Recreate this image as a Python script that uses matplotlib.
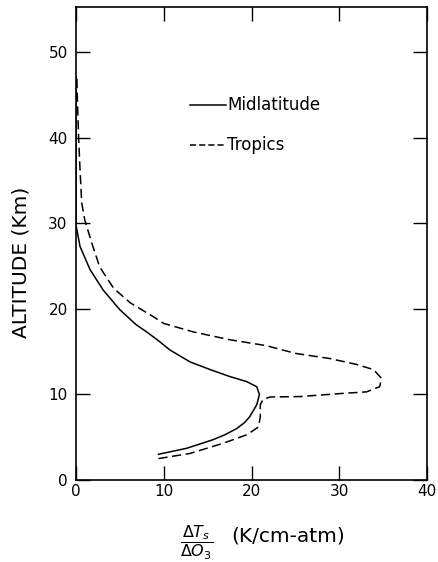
import matplotlib
matplotlib.use("Agg")
import matplotlib.pyplot as plt

# values (x: dTs/dO3 in K/cm-atm, y: altitude in km)
mid_x = [9.4, 12.6, 14.1, 15.6, 17.0, 18.3, 19.2, 19.8, 20.6, 20.9, 20.6, 19.45,
         17.5, 15.3, 13.0, 10.7, 9.5, 8.2, 6.8, 5.0, 3.1, 1.6, 0.46, 0.0, 0.0, 0.0]
mid_alt = [3.0, 3.7, 4.2, 4.7, 5.3, 6.0, 6.7, 7.4, 8.8, 10.0, 10.9, 11.5,
           12.1, 12.9, 13.8, 15.2, 16.2, 17.2, 18.2, 19.9, 22.2, 24.6, 27.3, 29.8, 35.0, 47.0]

trop_x = [9.4, 13.0, 16.8, 19.5, 20.8, 21.0, 21.0, 21.3, 22.1, 25.5, 30.1, 33.1,
          34.6, 34.8, 33.9, 32.0, 28.9, 25.0, 21.7, 17.5, 13.4, 10.0, 8.8, 6.2, 4.3,
          2.7, 1.8, 1.0, 0.65, 0.46, 0.3, 0.15, 0.1]
trop_alt = [2.5, 3.1, 4.3, 5.3, 6.2, 7.4, 8.8, 9.4, 9.7, 9.75, 10.1, 10.3,
            10.9, 11.9, 12.9, 13.5, 14.2, 14.8, 15.7, 16.4, 17.3, 18.3, 19.1, 20.7, 22.4,
            24.9, 27.7, 30.4, 32.4, 36.3, 40.0, 44.8, 47.0]

x_ticks = [0, 10, 20, 30, 40]
y_ticks = [0, 10, 20, 30, 40, 50]

fig = plt.figure(figsize=(4.38, 5.62), dpi=100)
ax = fig.add_axes([0.1735, 0.146, 0.8015, 0.8415])

ax.plot(mid_x, mid_alt, color='black', lw=1.1, solid_joinstyle='round')
ax.plot(trop_x, trop_alt, color='black', lw=1.1, dashes=(6, 3))

ax.set_xlim(0, 40)
ax.set_ylim(0, 55.3)
ax.set_xticks(x_ticks)
ax.set_yticks(y_ticks)
ax.tick_params(direction='in', length=10, width=1, top=True, right=True,
               labelsize=11)
ax.tick_params(axis='x', pad=3)
ax.tick_params(axis='y', pad=6)
for s in ax.spines.values():
    s.set_linewidth(1.2)

# legend drawn by hand like the original
ax.plot([13.0, 17.1], [43.9, 43.9], color='black', lw=1.1)
ax.text(17.2, 43.9, 'Midlatitude', va='center', ha='left', fontsize=12)
ax.plot([13.0, 17.1], [39.2, 39.2], color='black', lw=1.1, dashes=(4, 2))
ax.text(17.2, 39.2, 'Tropics', va='center', ha='left', fontsize=12)

ax.set_ylabel('ALTITUDE (Km)', fontsize=14.5)
ax.yaxis.set_label_coords(-0.131, 0.46)

# x label: fraction plus units, placed in figure pixels like the original
fig.text(197 / 438, 1 - 543 / 562, r'$\dfrac{\Delta T_s}{\Delta O_3}$',
         fontsize=11.5, ha='center', va='center')
fig.text(288 / 438, 1 - 536 / 562, '(K/cm-atm)', fontsize=14.5,
         ha='center', va='center')

fig.savefig('out.png', dpi=100)
